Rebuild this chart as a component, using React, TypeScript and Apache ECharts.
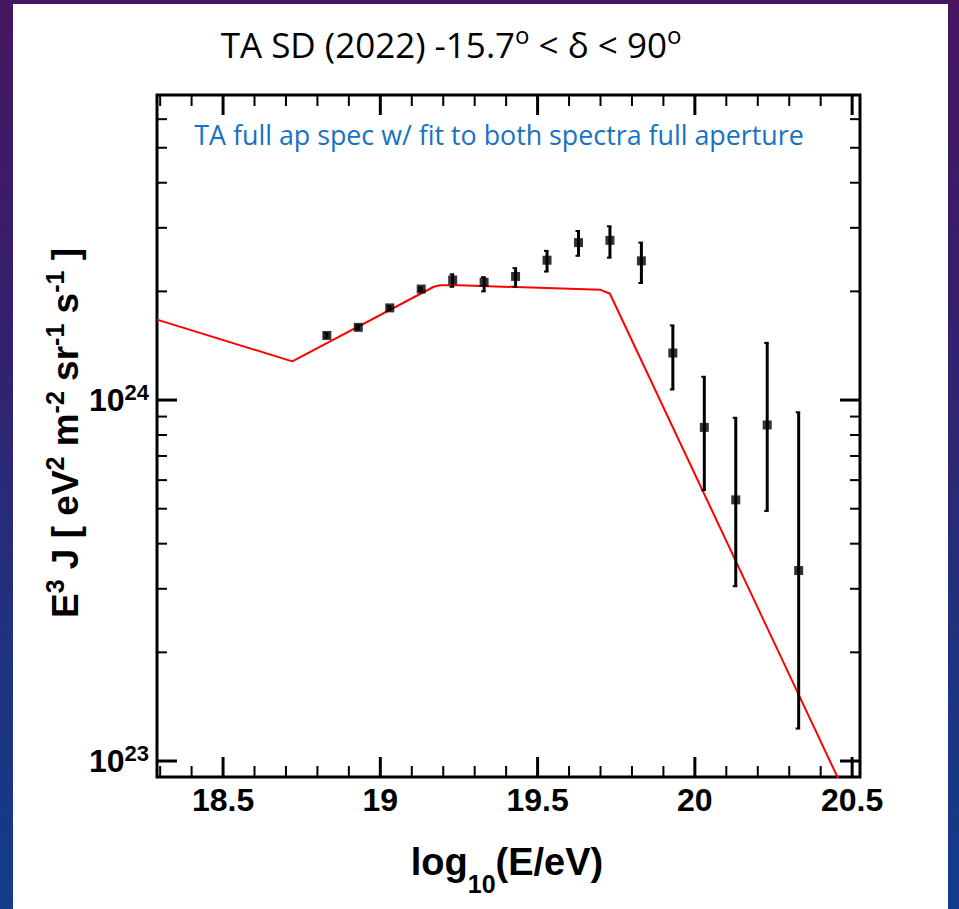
import React, { useEffect, useRef } from 'react';
import * as echarts from 'echarts';

// TA SD spectrum points: log10(E/eV) bin centres, E^3 J and its 1-sigma band
const energyLog = [18.83, 18.93, 19.03, 19.13, 19.23, 19.33, 19.43, 19.53, 19.63, 19.73, 19.83, 19.93, 20.03, 20.13, 20.23, 20.33];
const fluxE3J = [1.51e24, 1.59e24, 1.80e24, 2.03e24, 2.15e24, 2.12e24, 2.20e24, 2.44e24, 2.73e24, 2.77e24, 2.43e24, 1.35e24, 8.40e23, 5.29e23, 8.53e23, 3.37e23];
const fluxLow = [1.49e24, 1.57e24, 1.78e24, 2.01e24, 2.06e24, 2.00e24, 2.06e24, 2.27e24, 2.51e24, 2.48e24, 2.11e24, 1.07e24, 5.63e23, 3.05e23, 4.93e23, 1.23e23];
const fluxHigh = [1.53e24, 1.61e24, 1.82e24, 2.05e24, 2.23e24, 2.19e24, 2.32e24, 2.59e24, 2.94e24, 3.03e24, 2.73e24, 1.61e24, 1.16e24, 8.93e23, 1.44e24, 9.25e23];

// broken power-law fit (red curve)
const fitLogE = [18.29, 18.72, 19.17, 19.19, 19.25, 19.70, 19.73, 20.5];
const fitE3J = [1.67e24, 1.28e24, 2.06e24, 2.08e24, 2.08e24, 2.02e24, 1.97e24, 7.4e22];

// axis ranges and tick positions
const X_MIN = 18.29;
const X_MAX = 20.525;
const Y_MIN = 9.03e22;
const Y_MAX = 7e24;
const xLabelValues = [18.5, 19, 19.5, 20, 20.5];
const xMajorTicks = [18.5, 19, 19.5, 20, 20.5];
const xMinorTicks = [18.3, 18.4, 18.6, 18.7, 18.8, 18.9, 19.1, 19.2, 19.3, 19.4, 19.6, 19.7, 19.8, 19.9, 20.1, 20.2, 20.3, 20.4];
const yMajorTicks = [1e23, 1e24];
const yMinorTicks = [2e23, 3e23, 4e23, 5e23, 6e23, 7e23, 8e23, 9e23, 2e24, 3e24, 4e24, 5e24, 6e24];

const AXIS_FONT = "'Liberation Sans', Arial, Helvetica, sans-serif";
const SLIDE_FONT = "'Open Sans', 'Noto Sans', sans-serif";

function xTickRenderer(len: number, width: number) {
  return (params: any, api: any) => {
    const cs = params.coordSys;
    const px = api.coord([api.value(0), api.value(1)])[0];
    const bottom = cs.y + cs.height;
    const top = cs.y;
    const style = { stroke: '#000', lineWidth: width };
    return {
      type: 'group',
      children: [
        { type: 'line', shape: { x1: px, y1: bottom, x2: px, y2: bottom - len }, style },
        { type: 'line', shape: { x1: px, y1: top, x2: px, y2: top + len }, style },
      ],
    };
  };
}

function yTickRenderer(len: number, width: number) {
  return (params: any, api: any) => {
    const cs = params.coordSys;
    const py = api.coord([api.value(0), api.value(1)])[1];
    const left = cs.x;
    const right = cs.x + cs.width;
    const style = { stroke: '#000', lineWidth: width };
    return {
      type: 'group',
      children: [
        { type: 'line', shape: { x1: left, y1: py, x2: left + len, y2: py }, style },
        { type: 'line', shape: { x1: right, y1: py, x2: right - len, y2: py }, style },
      ],
    };
  };
}

export default function App() {
  const ref = useRef<HTMLDivElement>(null);

  useEffect(() => {
    document.body.style.margin = '0';
    const chart = echarts.init(ref.current!, null, { renderer: 'svg' });

    const option: any = {
      animation: false,
      backgroundColor: 'transparent',
      grid: {
        left: 157,
        top: 95,
        width: 703,
        height: 682,
        show: true,
        borderColor: '#000',
        borderWidth: 3,
        backgroundColor: 'transparent',
      },
      xAxis: {
        type: 'value',
        min: X_MIN,
        max: X_MAX,
        axisLine: { show: false },
        axisTick: { show: false },
        splitLine: { show: false },
        axisLabel: {
          customValues: xLabelValues,
          margin: 7,
          color: '#000',
          fontSize: 32,
          fontWeight: 'bold',
          fontFamily: AXIS_FONT,
          formatter: (v: number) => {
            const hit = xLabelValues.find((t) => Math.abs(t - v) < 1e-6);
            return hit === undefined ? '' : String(hit);
          },
        },
      },
      yAxis: {
        type: 'log',
        logBase: 10,
        min: Y_MIN,
        max: Y_MAX,
        axisLine: { show: false },
        axisTick: { show: false },
        splitLine: { show: false },
        axisLabel: {
          margin: 8,
          color: '#000',
          fontSize: 32,
          fontWeight: 'bold',
          fontFamily: AXIS_FONT,
          formatter: (v: number) => {
            const e = Math.log10(v);
            const r = Math.round(e);
            return Math.abs(e - r) < 1e-6 ? `{b|10}{s|${r}}` : '';
          },
          rich: {
            b: { fontSize: 32, fontWeight: 'bold', fontFamily: AXIS_FONT, color: '#000', lineHeight: 38 },
            s: { fontSize: 22, fontWeight: 'bold', fontFamily: AXIS_FONT, color: '#000', verticalAlign: 'top' },
          },
        },
      },
      graphic: [
        {
          type: 'text',
          x: 451,
          y: 44.7,
          style: {
            text: 'TA SD (2022) -15.7{o|o} < δ < 90{o|o}',
            fill: '#000',
            fontSize: 35,
            fontFamily: SLIDE_FONT,
            lineHeight: 45,
            align: 'center',
            verticalAlign: 'middle',
            rich: {
              o: { fontSize: 24, fontFamily: SLIDE_FONT, fill: '#000', verticalAlign: 'top' },
            },
          },
        },
        {
          type: 'text',
          x: 499,
          y: 134.5,
          style: {
            text: 'TA full ap spec w/ fit to both spectra full aperture',
            fill: '#1672c4',
            fontSize: 26.8,
            fontFamily: SLIDE_FONT,
            align: 'center',
            verticalAlign: 'middle',
          },
        },
        {
          type: 'text',
          x: 507,
          y: 861.8,
          style: {
            text: 'log{s|10}(E/eV)',
            fill: '#000',
            fontSize: 38,
            fontWeight: 'bold',
            fontFamily: AXIS_FONT,
            lineHeight: 70,
            align: 'center',
            verticalAlign: 'middle',
            rich: {
              s: { fontSize: 25, fontWeight: 'bold', fontFamily: AXIS_FONT, fill: '#000', verticalAlign: 'bottom' },
            },
          },
        },
        {
          type: 'text',
          x: 65.5,
          y: 433,
          rotation: Math.PI / 2,
          style: {
            text: 'E{p|3} J [ eV{p|2} m{p|-2} sr{p|-1} s{p|-1} ]',
            fill: '#000',
            fontSize: 37,
            fontWeight: 'bold',
            fontFamily: AXIS_FONT,
            lineHeight: 46,
            align: 'center',
            verticalAlign: 'middle',
            rich: {
              p: { fontSize: 25, fontWeight: 'bold', fontFamily: AXIS_FONT, fill: '#000', verticalAlign: 'top' },
            },
          },
        },
      ],
      series: [
        {
          name: 'fit',
          type: 'line',
          data: fitLogE.map((e, i) => [e, fitE3J[i]]),
          showSymbol: false,
          clip: true,
          lineStyle: { color: '#ff0000', width: 2 },
          z: 2,
          silent: true,
        },
        {
          name: 'errors',
          type: 'custom',
          data: energyLog.map((e, i) => [e, fluxLow[i], fluxHigh[i]]),
          encode: { x: 0, y: [1, 2] },
          z: 3,
          silent: true,
          renderItem: (params: any, api: any) => {
            const x = api.value(0);
            const pLo = api.coord([x, api.value(1)]);
            const pHi = api.coord([x, api.value(2)]);
            return {
              type: 'group',
              children: [
                { type: 'line', shape: { x1: pHi[0], y1: pHi[1], x2: pLo[0], y2: pLo[1] }, style: { stroke: '#000', lineWidth: 3 } },
                { type: 'line', shape: { x1: pHi[0] - 3, y1: pHi[1], x2: pHi[0] + 1.5, y2: pHi[1] }, style: { stroke: '#000', lineWidth: 2 } },
                { type: 'line', shape: { x1: pLo[0] - 3, y1: pLo[1], x2: pLo[0] + 1.5, y2: pLo[1] }, style: { stroke: '#000', lineWidth: 2 } },
              ],
            };
          },
        },
        {
          name: 'TA SD',
          type: 'scatter',
          data: energyLog.map((e, i) => [e, fluxE3J[i]]),
          symbol: 'rect',
          symbolSize: 9,
          itemStyle: { color: '#000' },
          z: 4,
          silent: true,
        },
        {
          type: 'custom',
          data: xMajorTicks.map((v) => [v, Y_MIN]),
          renderItem: xTickRenderer(20, 3),
          z: 5,
          silent: true,
        },
        {
          type: 'custom',
          data: xMinorTicks.map((v) => [v, Y_MIN]),
          renderItem: xTickRenderer(11, 2),
          z: 5,
          silent: true,
        },
        {
          type: 'custom',
          data: yMajorTicks.map((v) => [X_MIN, v]),
          renderItem: yTickRenderer(20, 3),
          z: 5,
          silent: true,
        },
        {
          type: 'custom',
          data: yMinorTicks.map((v) => [X_MIN, v]),
          renderItem: yTickRenderer(10, 2),
          z: 5,
          silent: true,
        },
      ],
    };

    chart.setOption(option);
    return () => chart.dispose();
  }, []);

  return (
    <div
      style={{
        position: 'fixed',
        left: 0,
        top: 0,
        width: 959,
        height: 909,
        overflow: 'hidden',
        background: 'linear-gradient(to bottom, #461660 0%, #35206e 35%, #20327f 70%, #123d8a 100%)',
      }}
    >
      <div style={{ position: 'absolute', left: 13, top: 4, width: 935, height: 905, background: '#fff' }} />
      <div ref={ref} style={{ position: 'absolute', left: 0, top: 0, width: 959, height: 909 }} />
    </div>
  );
}
